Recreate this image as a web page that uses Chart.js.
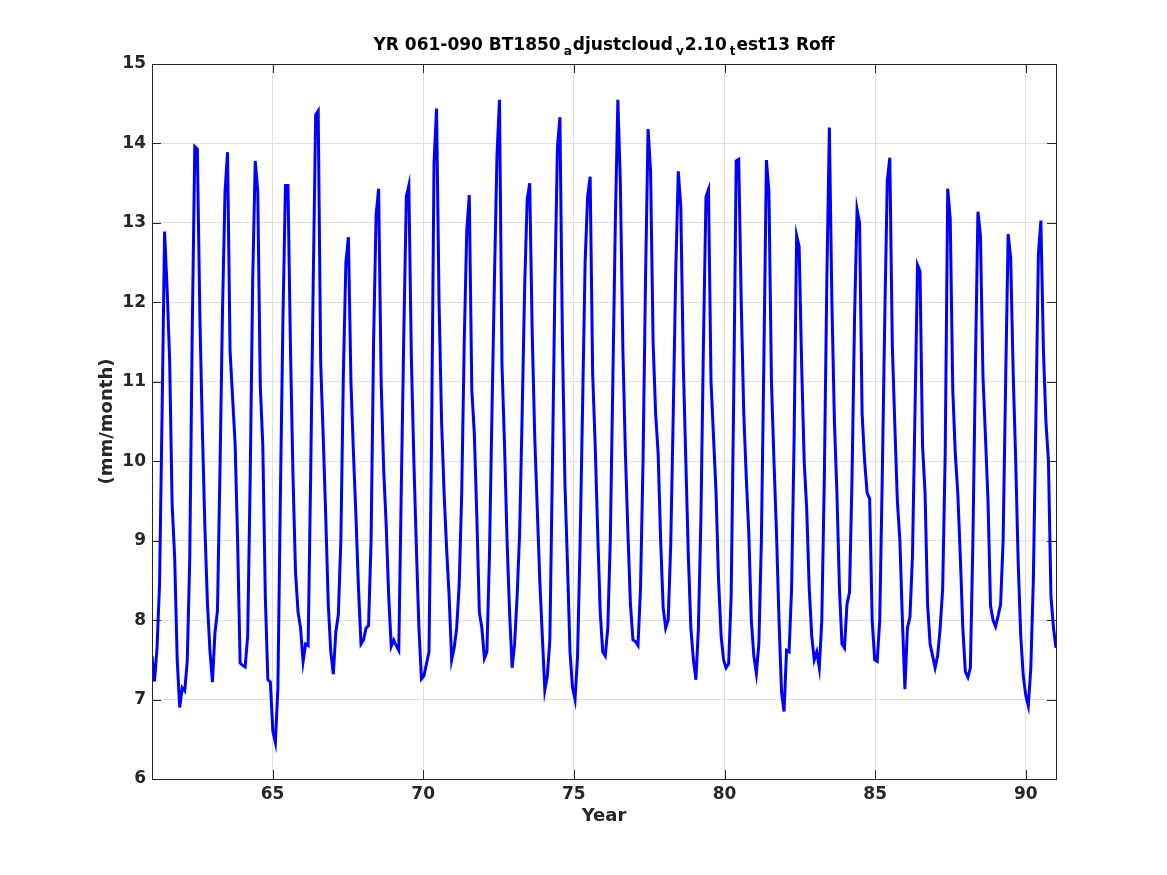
<!DOCTYPE html>
<html>
<head>
<meta charset="utf-8">
<script src="https://cdn.jsdelivr.net/npm/chart.js@4.4.1/dist/chart.umd.min.js"></script>
<style>
  body { margin: 0; background: #ffffff; }
  #wrap { position: relative; width: 1167px; height: 875px; }
  #title {
    position: absolute; left: 0; top: 36px; width: 1208px;
    text-align: center; font-family: 'DejaVu Sans', sans-serif;
    font-weight: bold; font-size: 17px; line-height: 17px; color: #000000;
    white-space: nowrap;
  }
  #title .sb { position: relative; top: 5px; font-size: 12px; margin: 0 1px 0 3px; }
</style>
</head>
<body>
<div id="wrap">
  <canvas id="roffChart" width="1167" height="875"></canvas>
  <div id="title">YR 061-090 BT1850<span class="sb">a</span>djustcloud<span class="sb">v</span>2.10<span class="sb">t</span>est13 Roff</div>
</div>
<script>
// monthly runoff (mm/month)
const roff61to70 = [
  7.55, 7.23, 7.65, 8.45, 10.6, 12.89, 12.17, 11.28, 9.45, 8.79, 7.51, 6.90,
  7.15, 7.11, 7.48, 8.79, 11.7, 13.96, 13.93, 11.84, 10.4, 9.17, 8.23, 7.62,
  7.22, 7.84, 8.12, 9.9, 11.9, 13.39, 13.89, 11.39, 10.8, 10.23, 9.0, 7.46,
  7.43, 7.41, 7.8, 9.8, 12.3, 13.78, 13.4, 10.95, 10.2, 8.3, 7.25, 7.22,
  6.6, 6.46, 7.15, 9.6, 11.8, 13.47, 13.47, 11.4, 9.8, 8.6, 8.1, 7.9,
  7.48, 7.7, 7.68, 9.8, 12.2, 14.36, 14.41, 11.23, 10.3, 9.3, 8.2, 7.6,
  7.32, 7.85, 8.07, 9.0, 11.1, 12.5, 12.82, 11.0, 10.1, 9.3, 8.4, 7.7,
  7.75, 7.9, 7.93, 9.0, 11.5, 13.1, 13.43, 11.0, 9.9, 9.2, 8.3, 7.67,
  7.75, 7.68, 7.62, 9.65, 11.6, 13.33, 13.47, 11.3, 10.0, 8.9, 7.9, 7.26,
  7.3, 7.45, 7.6, 10.2, 13.75, 14.44, 12.0, 10.5, 9.6, 8.9, 8.3, 7.5
];
const roff71to80 = [
  7.65, 7.9, 8.45, 9.6, 11.5, 12.9, 13.35, 10.9, 10.35, 9.3, 8.1, 7.9,
  7.52, 7.6, 8.8, 10.6, 12.3, 13.85, 14.55, 11.2, 10.2, 9.0, 8.1, 7.4,
  7.7, 8.3, 9.1, 10.6, 12.2, 13.3, 13.5, 11.6, 10.3, 9.4, 8.5, 7.8,
  7.12, 7.3, 7.75, 9.9, 12.2, 13.95, 14.33, 11.5, 9.7, 8.7, 7.6, 7.15,
  7.0, 7.55, 8.95, 10.7, 12.5, 13.33, 13.58, 11.1, 10.2, 9.1, 8.1, 7.6,
  7.55, 7.9, 9.0, 11.0, 13.0, 14.55, 13.5, 11.4, 10.1, 9.1, 8.2, 7.75,
  7.73, 7.68, 8.4, 10.0, 12.3, 14.18, 13.65, 11.5, 10.6, 10.1, 9.0, 8.15,
  7.9, 8.0, 8.95, 10.6, 12.4, 13.65, 13.2, 11.2, 10.0, 8.8, 7.9, 7.5,
  7.25, 7.9, 9.3, 11.5, 13.33, 13.42, 11.0, 10.3, 9.6, 8.5, 7.8, 7.5,
  7.4, 7.45, 8.3, 10.8, 13.78, 13.8, 12.0, 10.6, 9.8, 9.1, 8.0, 7.55
];
const roff81to90 = [
  7.33, 7.7, 9.0, 11.3, 13.79, 13.39, 11.0, 10.0, 9.1, 8.0, 7.1, 6.85,
  7.62, 7.6, 8.4, 10.3, 12.84, 12.7, 11.2, 10.0, 9.4, 8.4, 7.8, 7.5,
  7.6, 7.4, 8.0, 9.8, 12.3, 14.2, 12.0, 10.5, 9.6, 8.4, 7.7, 7.65,
  8.2, 8.35, 9.8, 11.8, 13.17, 13.0, 10.6, 10.0, 9.6, 9.53, 8.0, 7.5,
  7.48, 8.0, 9.8, 11.8, 13.53, 13.82, 11.45, 10.45, 9.5, 9.0, 8.0, 7.13,
  7.9, 8.04, 8.8, 10.6, 12.47, 12.39, 10.2, 9.6, 8.2, 7.7, 7.55, 7.4,
  7.55, 7.9, 8.4, 10.1, 13.43, 13.05, 10.9, 10.1, 9.6, 8.8, 7.9, 7.35,
  7.28, 7.4, 9.0, 11.2, 13.14, 12.84, 11.06, 10.3, 9.5, 8.18, 8.0, 7.92,
  8.05, 8.2, 9.0, 11.0, 12.86, 12.56, 11.1, 10.0, 8.7, 7.8, 7.3, 7.05,
  6.92, 7.4, 8.5, 10.5, 12.6, 13.03, 11.4, 10.5, 10.0, 8.3, 7.9, 7.65
];
const firstYear = 61;
const lastYear = 91;
const xTickValues = [65, 70, 75, 80, 85, 90];
const yTickValues = [6, 7, 8, 9, 10, 11, 12, 13, 14, 15];

const roff = roff61to70.concat(roff71to80, roff81to90);
const span = lastYear - firstYear;
const points = roff.map((v, i) => ({ x: firstYear + i * span / (roff.length - 1), y: v }));

const axisColor = '#262626';
const tickFont = { family: 'DejaVu Sans', size: 17, weight: 'bold' };
const labelFont = { family: 'DejaVu Sans', size: 18, weight: 'bold' };

// box + inward tick marks like a matlab axes
const matlabBox = {
  id: 'matlabBox',
  afterDatasetsDraw(chart) {
    const { ctx, chartArea: a, scales } = chart;
    const len = 9;
    ctx.save();
    ctx.strokeStyle = axisColor;
    ctx.lineWidth = 1;
    ctx.beginPath();
    scales.x.ticks.forEach((t) => {
      const px = Math.round(scales.x.getPixelForValue(t.value)) + 0.5;
      ctx.moveTo(px, a.bottom); ctx.lineTo(px, a.bottom - len);
      ctx.moveTo(px, a.top); ctx.lineTo(px, a.top + len);
    });
    scales.y.ticks.forEach((t) => {
      const py = Math.round(scales.y.getPixelForValue(t.value)) + 0.5;
      ctx.moveTo(a.left, py); ctx.lineTo(a.left + len, py);
      ctx.moveTo(a.right, py); ctx.lineTo(a.right - len, py);
    });
    ctx.stroke();
    ctx.strokeRect(Math.round(a.left) + 0.5, Math.round(a.top) + 0.5,
      Math.round(a.right - a.left), Math.round(a.bottom - a.top));
    ctx.restore();
  }
};

new Chart(document.getElementById('roffChart'), {
  type: 'line',
  data: {
    datasets: [{
      data: points,
      borderColor: '#0000ff',
      borderWidth: 3,
      pointRadius: 0,
      tension: 0,
      fill: false
    }]
  },
  options: {
    responsive: false,
    animation: false,
    devicePixelRatio: 1,
    layout: { padding: { top: 64, right: 111, bottom: 0, left: 0 } },
    plugins: {
      legend: { display: false },
      tooltip: { enabled: false }
    },
    scales: {
      x: {
        type: 'linear',
        min: firstYear,
        max: lastYear,
        afterBuildTicks: (s) => { s.ticks = xTickValues.map((v) => ({ value: v })); },
        afterFit: (s) => { s.height = 96; },
        grid: { color: '#dfdfdf', lineWidth: 1, drawTicks: false },
        border: { display: false },
        ticks: { color: axisColor, font: tickFont, padding: 5, maxRotation: 0, callback: (v) => String(v) },
        title: { display: true, text: 'Year', color: axisColor, font: labelFont, padding: { top: 0, bottom: 48 } }
      },
      y: {
        min: 6,
        max: 15,
        afterBuildTicks: (s) => { s.ticks = yTickValues.map((v) => ({ value: v })); },
        afterFit: (s) => { s.width = 152; },
        grid: { color: '#dfdfdf', lineWidth: 1, drawTicks: false },
        border: { display: false },
        ticks: { color: axisColor, font: tickFont, padding: 6, callback: (v) => String(v) },
        title: { display: true, text: '(mm/month)', color: axisColor, font: labelFont, padding: { top: 97, bottom: 0 } }
      }
    }
  },
  plugins: [matlabBox]
});
</script>
</body>
</html>
